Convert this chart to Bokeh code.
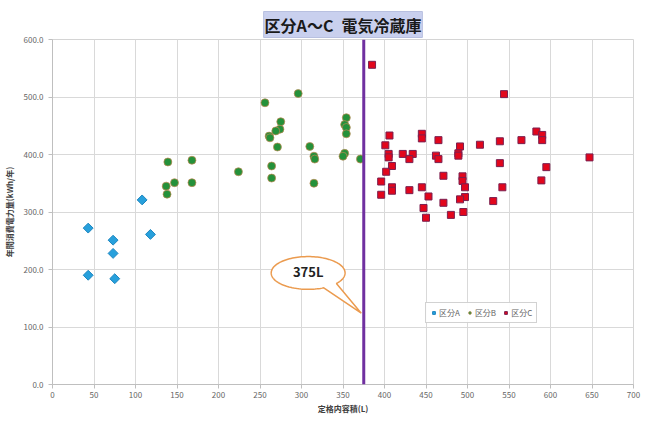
import numpy as np
from bokeh.plotting import figure
from bokeh.models import (Span, Label, Legend, LegendItem, FixedTicker,
                          NumeralTickFormatter, Range1d)
from bokeh.embed import file_html
from bokeh.resources import INLINE

# 区分A (定格内容積 L, 年間消費電力量 kWh/年)
a_vol = [43, 73, 73, 43, 75, 118, 108]
a_kwh = [272, 251, 228, 190, 184, 261, 321]

# 区分B
b_vol = [296, 256, 275, 274, 269, 261, 262, 271, 354, 352, 354, 354,
         310, 315, 316, 352, 350, 371, 139, 168, 224, 264, 264, 147,
         168, 137, 138, 315]
b_kwh = [506, 490, 457, 444, 441, 432, 429, 413, 464, 452, 447, 436,
         414, 397, 392, 402, 397, 392, 387, 390, 370, 380, 359, 351,
         351, 345, 331, 350]

# 区分C
c_vol = [385, 544, 583, 590, 590, 565, 539, 515, 465, 445, 445, 406,
         401, 491, 405, 405, 422, 434, 430, 462, 465, 489, 489, 647,
         409, 402, 539, 595, 471, 494, 494, 497, 589, 542, 396, 409,
         409, 430, 445, 396, 453, 497, 491, 531, 471, 447, 495, 450, 480]
c_kwh = [556, 505, 440, 434, 425, 425, 423, 417, 425, 436, 428, 433,
         416, 414, 401, 395, 401, 401, 392, 398, 392, 402, 398, 395,
         380, 370, 385, 378, 363, 362, 354, 343, 355, 343, 353, 343,
         337, 338, 343, 330, 327, 326, 322, 319, 316, 307, 300, 290, 295]

threshold = 375
x_ticks = list(range(0, 701, 50))
y_ticks = list(range(0, 601, 100))

FONT = "Noto Sans CJK JP"

p = figure(width=650, height=423, output_backend="svg", toolbar_location=None,
           x_range=Range1d(0, 700), y_range=Range1d(0, 600),
           min_border_left=52, min_border_right=17, min_border_top=39,
           min_border_bottom=39)
p.background_fill_color = "white"
p.border_fill_color = "white"
p.outline_line_color = "#d4d4d4"

# title box
p.title.text = "区分A～C\u2002電気冷蔵庫"
p.title.align = "center"
p.title.text_font = FONT
p.title.text_font_size = "16px"
p.title.text_font_style = "bold"
p.title.text_color = "#1a1a1a"
p.title.background_fill_color = "#c9d0ee"
p.title.border_line_color = "#b8c0e0"
p.title.padding = 1
p.title.standoff = 4
p.title.offset = 0

# axes
for ax in (p.xaxis[0], p.yaxis[0]):
    ax.axis_line_color = "#bfbfbf"
    ax.major_tick_line_color = "#bfbfbf"
    ax.major_tick_in = 0
    ax.major_tick_out = 4
    ax.minor_tick_line_color = None
    ax.major_label_text_font = FONT
    ax.major_label_text_font_size = "8px"
    ax.major_label_text_color = "#666666"
    ax.axis_label_text_font = FONT
    ax.axis_label_text_font_size = "8px"
    ax.axis_label_text_font_style = "bold"
    ax.axis_label_text_color = "#404040"

p.xaxis.ticker = FixedTicker(ticks=x_ticks)
p.yaxis.ticker = FixedTicker(ticks=y_ticks)
p.yaxis.formatter = NumeralTickFormatter(format="0.0")
p.xaxis.axis_label = "定格内容積(L)"
p.yaxis.axis_label = "年間消費電力量(kWh/年)"
p.xaxis.axis_label_standoff = 2
p.xaxis.major_label_standoff = 3
p.yaxis.axis_label_standoff = 6

p.xgrid.grid_line_color = "#d9d9d9"
p.ygrid.grid_line_color = "#d9d9d9"

# threshold line
p.add_layout(Span(location=threshold, dimension="height",
                  line_color="#7030a0", line_width=3))

# callout balloon for the threshold
cx, cy, ra, rb = 308, 194, 44.5, 28.5
t = np.deg2rad(np.linspace(-40, 295, 120))
bx = list(cx + ra * np.cos(t)) + [threshold - 3]
by = list(cy + rb * np.sin(t)) + [124]
p.patch(bx, by, fill_color="white", line_color="#eb9b4f", line_width=1.5)
p.add_layout(Label(x=cx, y=cy + 2, text="375L", text_align="center",
                   text_baseline="middle", text_font=FONT,
                   text_font_size="13px", text_font_style="bold",
                   text_color="#222222"))

# series
ra_ = p.scatter(a_vol, a_kwh, marker="square", angle=np.pi / 4, size=7,
                fill_color="#27a0dc", line_color="#1d86c0", line_width=1)
rb_ = p.scatter(b_vol, b_kwh, marker="circle", size=8,
                fill_color="#24913a", line_color="#c08650", line_width=0.7)
rc_ = p.scatter(c_vol, c_kwh, marker="square", size=7,
                fill_color="#e2061c", line_color="#7a2050", line_width=1)

legend = Legend(items=[LegendItem(label="区分A", renderers=[ra_]),
                       LegendItem(label="区分B", renderers=[rb_]),
                       LegendItem(label="区分C", renderers=[rc_])],
                orientation="horizontal", location=(373, 61),
                label_text_font=FONT, label_text_font_size="8px",
                label_text_color="#666666", glyph_width=7, glyph_height=7,
                label_standoff=2, spacing=6, padding=4, margin=0,
                border_line_color="#a6a6a6", border_line_width=1,
                background_fill_color="white")
p.add_layout(legend)

open("out.html", "w").write(file_html(p, INLINE))
